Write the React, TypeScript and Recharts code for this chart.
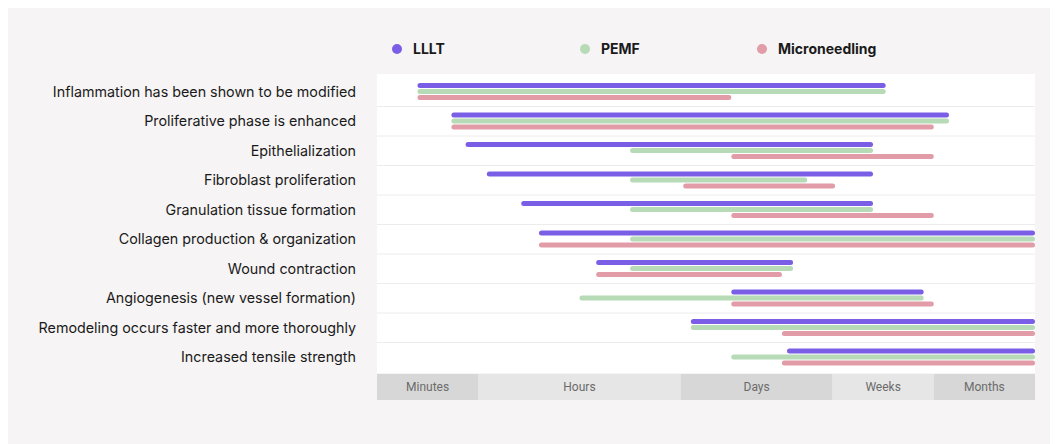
import React from 'react';
import { BarChart, Bar, XAxis, YAxis, CartesianGrid } from 'recharts';

const categories = [
  'Inflammation has been shown to be modified',
  'Proliferative phase is enhanced',
  'Epithelialization',
  'Fibroblast proliferation',
  'Granulation tissue formation',
  'Collagen production & organization',
  'Wound contraction',
  'Angiogenesis (new vessel formation)',
  'Remodeling occurs faster and more thoroughly',
  'Increased tensile strength',
];

// time ranges on a 0..13 scale (Minutes 0-2, Hours 2-6, Days 6-9, Weeks 9-11, Months 11-13)
const lllt: [number, number][] = [
  [0.8, 10.05], [1.47, 11.3], [1.75, 9.8], [2.17, 9.8], [2.85, 9.8],
  [3.2, 13], [4.33, 8.22], [7.0, 10.8], [6.2, 13], [8.1, 13],
];
const pemf: [number, number][] = [
  [0.8, 10.05], [1.47, 11.3], [5.0, 9.8], [5.0, 8.5], [5.0, 9.8],
  [5.0, 13], [5.0, 8.22], [4.0, 10.8], [6.2, 13], [7.0, 13],
];
const microneedling: [number, number][] = [
  [0.8, 7.0], [1.47, 11.0], [7.0, 11.0], [6.05, 9.05], [7.0, 11.0],
  [3.2, 13], [4.33, 8.0], [7.0, 11.0], [8.0, 13], [8.0, 13],
];

const timeBands = ['Minutes', 'Hours', 'Days', 'Weeks', 'Months'];
const bandStarts = [0, 2, 6, 9, 11];
const bandEnds = [2, 6, 9, 11, 13];

const series = [
  { key: 'lllt', name: 'LLLT', color: '#7b5ee6' },
  { key: 'pemf', name: 'PEMF', color: '#b6dbb6' },
  { key: 'micro', name: 'Microneedling', color: '#e19ca7' },
];

const data = categories.map((name, i) => ({
  name,
  lllt: lllt[i],
  pemf: pemf[i],
  micro: microneedling[i],
}));

const W = 1050;
const H = 436;
const Y_W = 369;
const M_RIGHT = 23;
const PLOT_W = W - Y_W - M_RIGHT;
const PAD_T = 3;
const PAD_B = 1;

const BandTick = (props: any) => {
  const { x, y, payload } = props;
  const i = bandStarts.indexOf(payload.value);
  if (i < 0) return null;
  const w = ((bandEnds[i] - bandStarts[i]) * PLOT_W) / 13;
  return (
    <g>
      <rect x={x} y={y + 1} width={w} height={26} fill={i % 2 === 0 ? '#d7d7d7' : '#e6e6e6'} />
      <text
        x={x + w / 2}
        y={y + 18}
        textAnchor="middle"
        fontSize={12}
        fontFamily="Roboto, sans-serif"
        fill="#6b6b6b"
      >
        {timeBands[i]}
      </text>
    </g>
  );
};

export default function App() {
  return (
    <div style={{ position: 'relative', width: W, height: H, background: '#f6f4f5', fontFamily: 'Inter, sans-serif' }}>
      <div style={{ position: 'absolute', top: 32, left: 0, height: 20 }}>
        {series.map((s, i) => (
          <div
            key={s.key}
            style={{
              position: 'absolute',
              left: [384, 572, 749][i],
              top: 0,
              display: 'flex',
              alignItems: 'center',
              whiteSpace: 'nowrap',
            }}
          >
            <span style={{ width: 10, height: 10, borderRadius: 5, background: s.color, display: 'inline-block', marginRight: 11 }} />
            <span style={{ fontSize: 14, fontWeight: 700, color: '#1a1a1a' }}>{s.name}</span>
          </div>
        ))}
      </div>
      <BarChart
        width={W}
        height={H}
        data={data}
        layout="vertical"
        margin={{ top: 66, right: M_RIGHT, bottom: 41, left: 0 }}
        barSize={5}
        barGap={1}
      >
        <CartesianGrid
          vertical={false}
          fill="#ffffff"
          stroke="#ececec"
          horizontalCoordinatesGenerator={({ offset }: any) => {
            const step = (offset.height - PAD_T - PAD_B) / categories.length;
            return categories.slice(1).map((_, i) => offset.top + PAD_T + step * (i + 1));
          }}
        />
        <XAxis
          type="number"
          domain={[0, 13]}
          ticks={bandStarts}
          interval={0}
          axisLine={false}
          tickLine={false}
          tickSize={0}
          tickMargin={0}
          height={30}
          tick={<BandTick />}
        />
        <YAxis
          type="category"
          dataKey="name"
          width={Y_W}
          axisLine={false}
          tickLine={false}
          tickSize={0}
          tickMargin={21}
          interval={0}
          padding={{ top: PAD_T, bottom: PAD_B }}
          tick={{ fontSize: 14.3, fill: '#1a1a1a', fontFamily: 'Inter, sans-serif' }}
        />
        {series.map((s) => (
          <Bar key={s.key} dataKey={s.key} name={s.name} fill={s.color} radius={3} isAnimationActive={false} />
        ))}
      </BarChart>
    </div>
  );
}
